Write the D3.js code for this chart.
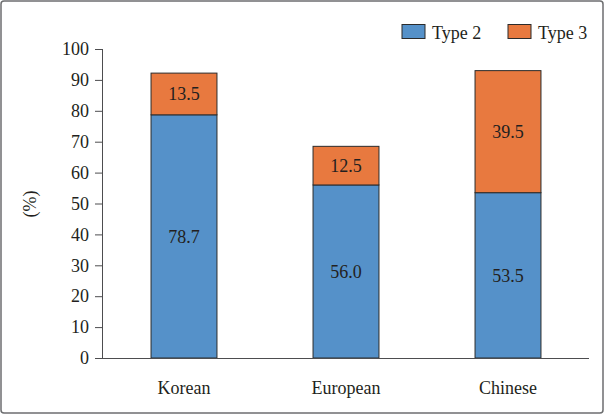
<!DOCTYPE html>
<html><head><meta charset="utf-8">
<script src="https://cdn.jsdelivr.net/npm/d3@7"></script>
<style>body{margin:0;background:#fff}svg{display:block}</style>
</head><body><svg id="c" width="605" height="415"></svg>
<script>
const categories = ["Korean","European","Chinese"];
const type2 = [78.7, 56.0, 53.5];
const type3 = [13.5, 12.5, 39.5];
const seriesNames = ["Type 2","Type 3"];
const colors = ["#5591c9","#e8793f"];
const yTicks = [0,10,20,30,40,50,60,70,80,90,100];

const FONT = '"Liberation Serif", "Times New Roman", serif';
const FS = 18;
const svg = d3.select("#c");
svg.append("rect").attr("x",1).attr("y",1).attr("width",602).attr("height",412)
  .attr("rx",3).attr("fill","#fff").attr("stroke","#6d6e70").attr("stroke-width",1.5);

const x0 = 103, x1 = 589, yTop = 49, yBot = 358;
const x = d3.scaleBand().domain(categories).range([x0,x1]).paddingInner(0.593).paddingOuter(0.2965);
const y = d3.scaleLinear().domain([0,100]).range([yBot,yTop]);

const data = categories.map((c,i)=>({cat:c, t2:type2[i], t3:type3[i]}));
const stack = d3.stack().keys(["t2","t3"])(data);

const g = svg.append("g");
stack.forEach((s,si)=>{
  g.selectAll(null).data(s).enter().append("rect")
    .attr("x",d=>x(d.data.cat)).attr("width",x.bandwidth())
    .attr("y",d=>y(d[1])).attr("height",d=>y(d[0])-y(d[1]))
    .attr("fill",colors[si]).attr("stroke","#2b2b2b").attr("stroke-width",1);
  g.selectAll(null).data(s).enter().append("text")
    .attr("x",d=>x(d.data.cat)+x.bandwidth()/2)
    .attr("y",d=>(y(d[0])+y(d[1]))/2).attr("dy","0.35em")
    .attr("text-anchor","middle")
    .style("font-family",FONT).style("font-size",FS+"px").style("fill","#231f20")
    .text(d=>(d[1]-d[0]).toFixed(1));
});

// y axis
const ya = svg.append("g").attr("transform",`translate(${x0},0)`)
  .call(d3.axisLeft(y).tickValues(yTicks).tickSize(8).tickPadding(6));
ya.select(".domain").attr("stroke","#4d4d4f").attr("d",`M-0.5,${yTop}V${yBot}`);
ya.selectAll(".tick line").attr("stroke","#4d4d4f");
ya.selectAll(".tick text").style("font-size",FS+"px").style("font-family",FONT).style("fill","#231f20");

// x axis
const xa = svg.append("g").attr("transform",`translate(0,${yBot})`)
  .call(d3.axisBottom(x).tickSize(0).tickPadding(23));
xa.select(".domain").attr("stroke","#4d4d4f").attr("d",`M${x0},0.5H${x1}`);
xa.selectAll(".tick text").style("font-size",FS+"px").style("font-family",FONT).style("fill","#231f20");

svg.append("text").attr("transform","translate(36,204) rotate(-90)")
  .attr("text-anchor","middle")
  .style("font-family",FONT).style("font-size",FS+"px").style("fill","#231f20").text("(%)");

// legend
const legX = [402, 508];
seriesNames.forEach((n,i)=>{
  svg.append("rect").attr("x",legX[i]).attr("y",24.5).attr("width",23).attr("height",14)
    .attr("fill",colors[i]).attr("stroke","#2b2b2b").attr("stroke-width",1);
  svg.append("text").attr("x",legX[i]+30).attr("y",38.5)
    .style("font-family",FONT).style("font-size",FS+"px").style("fill","#231f20").text(n);
});
</script></body></html>
